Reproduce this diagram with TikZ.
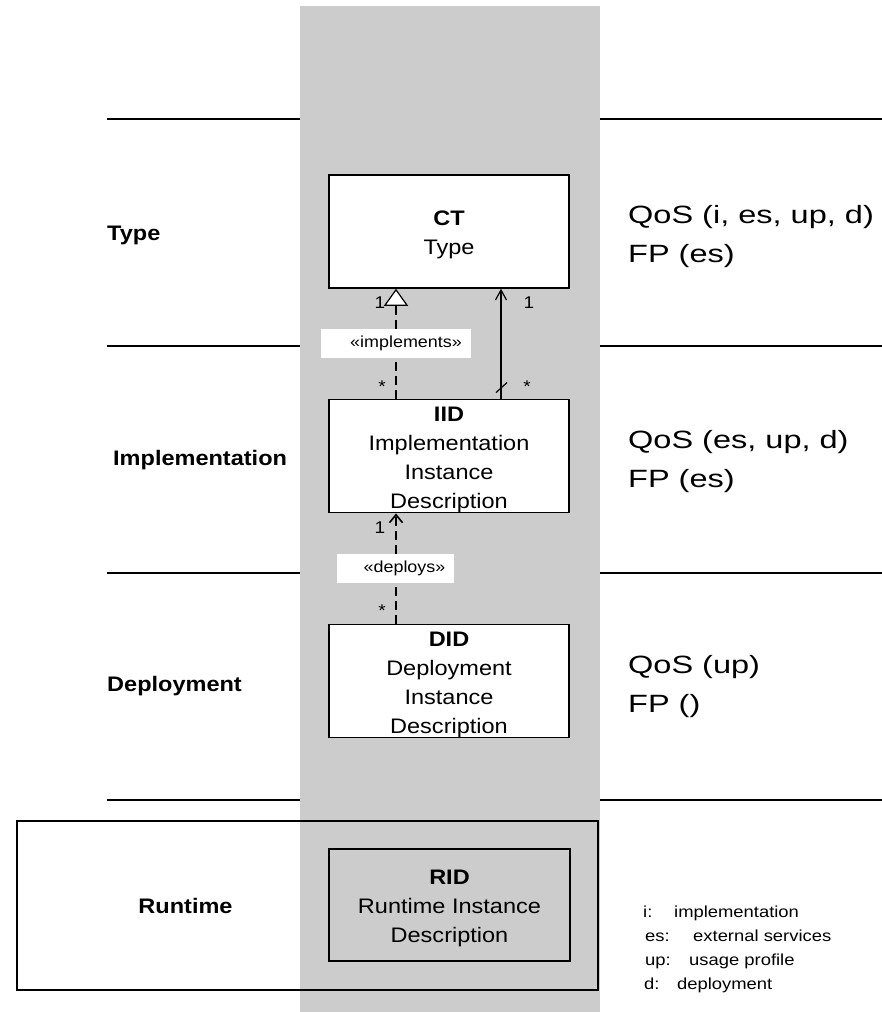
\documentclass[tikz,border=0pt]{standalone}
\usepackage{fontspec}
\setmainfont{Liberation Sans}[FakeStretch=1.12]
\newfontfamily\qosfont{Liberation Sans}[FakeStretch=1.3]
\newfontfamily\legfont{Liberation Sans}[FakeStretch=1.15]
\usetikzlibrary{arrows.meta}
\definecolor{colgrey}{HTML}{CCCCCC}
\newcommand{\toppad}{\rule{0pt}{22pt}}
\begin{document}
\begin{tikzpicture}[x=1pt,y=-1pt,
  sepline/.style={line width=1.5pt},
  umlbox/.style={draw, line width=1.5pt, fill=white, minimum width=240pt, minimum height=112pt, inner sep=0pt, align=center, font=\fontsize{21}{29}\selectfont},
  container/.style={draw, line width=1.5pt, inner sep=0pt},
  layer/.style={font=\bfseries\fontsize{21}{25}\selectfont, inner sep=0pt},
  qos/.style={font=\qosfont\fontsize{25}{30}\selectfont, anchor=base west, inner sep=0pt},
  mult/.style={font=\fontsize{17}{17}\selectfont, anchor=base, inner sep=0pt},
  stereo/.style={fill=white, minimum height=29pt, inner sep=0pt, font=\fontsize{16}{16}\selectfont},
  legend/.style={font=\legfont\fontsize{16}{16}\selectfont, anchor=base west, inner sep=0pt},
  depline/.style={line width=2.7pt, dash pattern=on 9pt off 5pt},
  assocline/.style={line width=1.2pt}
]
\useasboundingbox (0,0) rectangle (882,1012);
% grey column
\fill[colgrey] (300,6) rectangle (600,1012);

% layer separators
\foreach \yy in {119,346,573,800}{
  \draw[sepline] (107,\yy) -- (300,\yy);
  \draw[sepline] (600,\yy) -- (882,\yy);
}

% runtime container
\node[container, minimum width=581pt, minimum height=169pt] (rtbox) at (307.5,905.5) {};

% layer labels
\node[layer, anchor=base west] (lType) at (107,240) {Type};
\node[layer, anchor=base west] (lImpl) at (113,465) {Implementation};
\node[layer, anchor=base west] (lDepl) at (107,691) {Deployment};
\node[layer, anchor=base] (lRun) at (185.5,913) {Runtime};

% boxes
\node[umlbox, minimum height=113pt] (CT) at (449,231.5) {\toppad\textbf{CT}\\Type};
\node[umlbox] (IID) at (449,456) {\toppad\textbf{IID}\\Implementation\\Instance\\Description};
\node[umlbox] (DID) at (449,681) {\toppad\textbf{DID}\\Deployment\\Instance\\Description};
\node[umlbox, fill=none, minimum width=241pt] (RID) at (449.5,905) {\toppad\textbf{RID}\\Runtime Instance\\Description};

% implements (realization)
\draw[depline, -{Triangle[open, length=17pt, width=24pt, line width=1.2pt, fill=white]}]
  ([xshift=-53pt]IID.north) -- ([xshift=-53pt]CT.south);
% association
\coordinate (assocbase) at ([xshift=52pt]IID.north);
\draw[assocline, -{Straight Barb[length=10pt, width=11pt, line width=1.2pt]}]
  (assocbase) -- ([xshift=52pt]CT.south);
\draw[assocline] ([shift={(-5,-6)}]assocbase) -- ([shift={(6,-16)}]assocbase);
% deploys
\draw[depline, -{Straight Barb[length=8pt, width=13pt, line width=1.6pt]}]
  ([xshift=-53pt]DID.north) -- ([xshift=-53pt]IID.south);

% stereotype labels
\node[stereo, minimum width=150pt] (implabel) at (396,343.5) {\hspace{20pt}«implements»};
\node[stereo, minimum width=117pt] (deplabel) at (395.5,568.5) {\hspace{18pt}«deploys»};

% multiplicities
\node[mult] (m1) at (380,308) {1};
\node[mult] (m2) at (382,392) {*};
\node[mult] (m3) at (529,308) {1};
\node[mult] (m4) at (527,392) {*};
\node[mult] (m5) at (380,533) {1};
\node[mult] (m6) at (382,616) {*};

% QoS / FP
\node[qos] (qCT) at (628,223) {QoS (i, es, up, d)};
\node[qos] (fCT) at (628,262) {FP (es)};
\node[qos] (qIID) at (628,448) {QoS (es, up, d)};
\node[qos] (fIID) at (628,487) {FP (es)};
\node[qos] (qDID) at (628,673) {QoS (up)};
\node[qos] (fDID) at (628,712) {FP ()};

% legend
\node[legend] (k1) at (643,917) {i:};
\node[legend] (v1) at (674,917) {implementation};
\node[legend] (k2) at (645,941) {es:};
\node[legend] (v2) at (693,941) {external services};
\node[legend] (k3) at (645,965) {up:};
\node[legend] (v3) at (689,965) {usage profile};
\node[legend] (k4) at (644,989) {d:};
\node[legend] (v4) at (677,989) {deployment};
\end{tikzpicture}
\end{document}
